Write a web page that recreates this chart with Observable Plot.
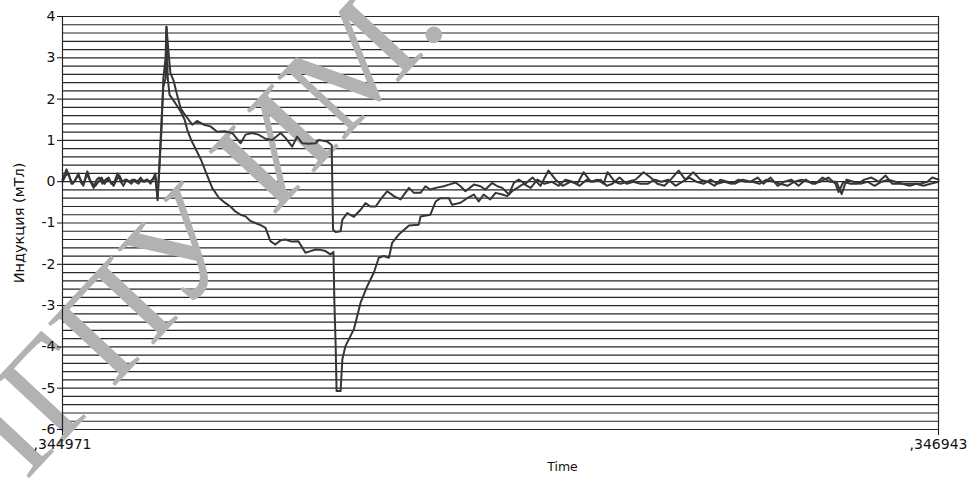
<!DOCTYPE html>
<html>
<head>
<meta charset="utf-8">
<script src="https://cdn.jsdelivr.net/npm/d3@7"></script>
<script src="https://cdn.jsdelivr.net/npm/@observablehq/plot@0.6"></script>
<style>
  html, body { margin: 0; padding: 0; background: #fff; }
</style>
</head>
<body>
<div id="chart"></div>
<script>
// Time offsets in microseconds after ,344971 s; values in mT
const tA = [0,9,16,23,29,36,43,50,56,63,70,77,83,90,97,104,110,117,124,131,137,144,151,158,164,171,178,185,191,198,205,209,214,218,223,227,232,234,239,243,250,258,266,273,284,292,303,318,333,348,365,382,401,412,427,441,457,472,491,502,517,528,540,554,570,577,596,606,609,615,626,630,641,656,671,682,693,705,716,731,746,761,780,791,806,817,828,840,858,870,885,896,907,926,941,952,967,979,990,1005,1016,1027,1042,1058,1076,1094,1110,1126,1144,1159,1173,1189,1204,1218,1227,1243,1256,1272,1290,1308,1324,1339,1355,1369,1387,1402,1420,1436,1452,1468,1481,1497,1513,1531,1549,1565,1578,1594,1610,1625,1641,1657,1673,1688,1706,1724,1740,1747,1758,1774,1790,1805,1821,1837,1853,1868,1884,1900,1916,1931,1947,1958,1972];
const vA = [0.05,0.3,0.1,-0.05,0.05,0.2,-0.05,0.0,0.25,0.0,-0.15,0.05,0.1,-0.05,0.05,0.1,-0.05,0.0,0.2,0.0,-0.1,0.05,0.0,0.05,0.0,-0.05,0.05,0.0,0.05,-0.05,0.1,0.2,-0.45,0.3,1.3,2.5,3.0,3.75,3.1,2.63,2.45,2.1,1.78,1.66,1.5,1.38,1.47,1.38,1.34,1.21,1.22,1.18,0.93,1.14,1.18,1.14,1.04,1.01,1.18,1.06,0.85,1.09,0.93,0.92,0.93,1.01,0.97,0.89,-1.16,-1.22,-1.2,-0.92,-0.76,-0.85,-0.68,-0.52,-0.6,-0.6,-0.43,-0.23,-0.35,-0.43,-0.15,-0.27,-0.27,-0.11,-0.19,-0.15,-0.11,-0.07,-0.02,-0.11,-0.23,-0.07,-0.11,-0.19,-0.03,-0.11,-0.15,-0.31,-0.03,0.05,-0.05,0.1,-0.1,0.27,0.05,-0.1,0.0,-0.05,0.23,0.0,0.05,-0.05,0.23,0.0,-0.05,0.0,0.05,0.23,0.1,-0.05,-0.1,0.05,0.27,0.05,0.23,0.05,0.0,-0.1,0.05,0.0,-0.05,0.05,0.0,0.1,-0.05,0.1,-0.1,0.0,0.05,-0.1,0.05,-0.05,0.0,0.1,-0.05,-0.25,0.0,-0.05,-0.05,0.05,0.1,0.0,0.15,-0.05,-0.05,-0.05,-0.05,-0.05,0.0,0.1,0.05];

const tB = [0,7,14,20,27,34,41,47,54,61,68,74,81,88,95,101,108,115,122,128,135,142,149,155,162,169,176,182,189,196,203,209,214,218,223,227,232,234,237,241,248,257,266,275,281,290,299,311,322,337,352,367,378,389,401,412,423,434,446,457,468,479,491,502,516,531,547,558,570,581,592,603,610,612,615,617,626,630,637,656,671,686,701,712,723,735,742,757,780,802,806,828,840,851,870,877,896,911,926,937,948,963,975,990,1001,1012,1024,1038,1054,1069,1085,1101,1117,1132,1148,1164,1180,1195,1211,1225,1238,1254,1270,1285,1301,1317,1333,1348,1364,1380,1396,1411,1427,1443,1459,1474,1490,1506,1522,1537,1553,1569,1585,1601,1616,1632,1648,1664,1679,1695,1711,1727,1742,1754,1765,1781,1796,1812,1828,1844,1859,1875,1891,1907,1922,1938,1954,1972];
const vB = [0.0,0.15,0.2,-0.05,0.0,0.15,0.05,-0.1,0.2,0.05,-0.05,-0.1,0.0,0.1,-0.05,0.05,0.0,-0.1,0.05,0.15,0.0,0.05,0.0,-0.05,0.05,0.0,0.1,0.0,0.05,0.0,0.05,0.1,-0.4,0.4,1.5,2.3,2.5,3.75,2.5,2.1,2.0,1.85,1.7,1.5,1.25,1.0,0.81,0.55,0.25,-0.15,-0.39,-0.52,-0.6,-0.72,-0.8,-0.84,-0.95,-1.0,-1.05,-1.12,-1.44,-1.52,-1.42,-1.4,-1.45,-1.44,-1.72,-1.68,-1.64,-1.65,-1.68,-1.76,-1.7,-2.9,-4.0,-5.07,-5.07,-4.3,-3.98,-3.57,-2.93,-2.53,-2.2,-1.84,-1.8,-1.84,-1.48,-1.28,-1.06,-1.04,-0.84,-0.8,-0.48,-0.4,-0.4,-0.56,-0.51,-0.4,-0.31,-0.48,-0.31,-0.43,-0.27,-0.31,-0.35,-0.23,-0.15,-0.05,-0.15,0.05,-0.05,0.0,-0.1,0.05,0.0,-0.1,0.05,0.0,0.05,-0.1,-0.05,0.1,-0.05,0.0,-0.05,-0.05,0.05,0.0,0.05,-0.1,0.0,0.1,0.0,-0.05,0.05,-0.05,0.0,-0.05,0.05,0.0,0.0,-0.05,0.05,0.0,-0.05,-0.1,0.0,0.05,0.0,-0.05,0.1,0.0,0.0,-0.3,0.05,0.0,-0.05,0.0,-0.1,0.0,0.05,0.0,-0.05,-0.1,-0.05,-0.1,-0.05,0.0];

const yTicks = [4, 3, 2, 1, 0, -1, -2, -3, -4, -5, -6];
const xTicks = [0, 1972];
const xTickLabels = [",344971", ",346943"];
const yLabel = "Индукция (мТл)";
const xLabel = "Time";
const watermark = "ПГПУ ИМ.";

const gridValues = d3.range(-30, 21).map(k => k / 5);

const dataA = tA.map((t, i) => ({t, v: vA[i]}));
const dataB = tB.map((t, i) => ({t, v: vB[i]}));

const lineColor = "#363636";

const chart = Plot.plot({
  width: 969,
  height: 479,
  marginTop: 16,
  marginBottom: 50,
  marginLeft: 62,
  marginRight: 31,
  style: {fontFamily: "DejaVu Sans", fontSize: "14px", color: "#111", background: "#fff"},
  x: {domain: [0, 1972]},
  y: {domain: [-6, 4]},
  marks: [
    Plot.ruleY(gridValues, {stroke: "#262626", strokeWidth: 1.2}),
    Plot.text([watermark], {frameAnchor: "top-left", dx: 84, dy: 190, rotate: -47, fontSize: 140, fill: "#b2b2b2", fontFamily: "Liberation Serif", textAnchor: "middle"}),
    Plot.line(dataB, {x: "t", y: "v", stroke: lineColor, strokeWidth: 2}),
    Plot.line(dataA, {x: "t", y: "v", stroke: lineColor, strokeWidth: 2}),
    Plot.ruleX([0, 1972], {stroke: "#262626", strokeWidth: 1.2}),
    Plot.axisY(yTicks, {tickSize: 5, tickPadding: 2, tickFormat: d => String(d), label: null, fontSize: 14}),
    Plot.axisX(xTicks, {tickSize: 6, tickPadding: 4, tickFormat: d => xTickLabels[xTicks.indexOf(d)], label: null, fontSize: 14}),
    Plot.text([yLabel], {frameAnchor: "left", dx: -43, dy: 0, rotate: -90, fontSize: 14.5, textAnchor: "middle"}),
    Plot.text([xLabel], {frameAnchor: "bottom-left", dx: 500, dy: 41, fontSize: 12.5, textAnchor: "middle"})
  ]
});
document.getElementById("chart").appendChild(chart);
</script>
</body>
</html>
